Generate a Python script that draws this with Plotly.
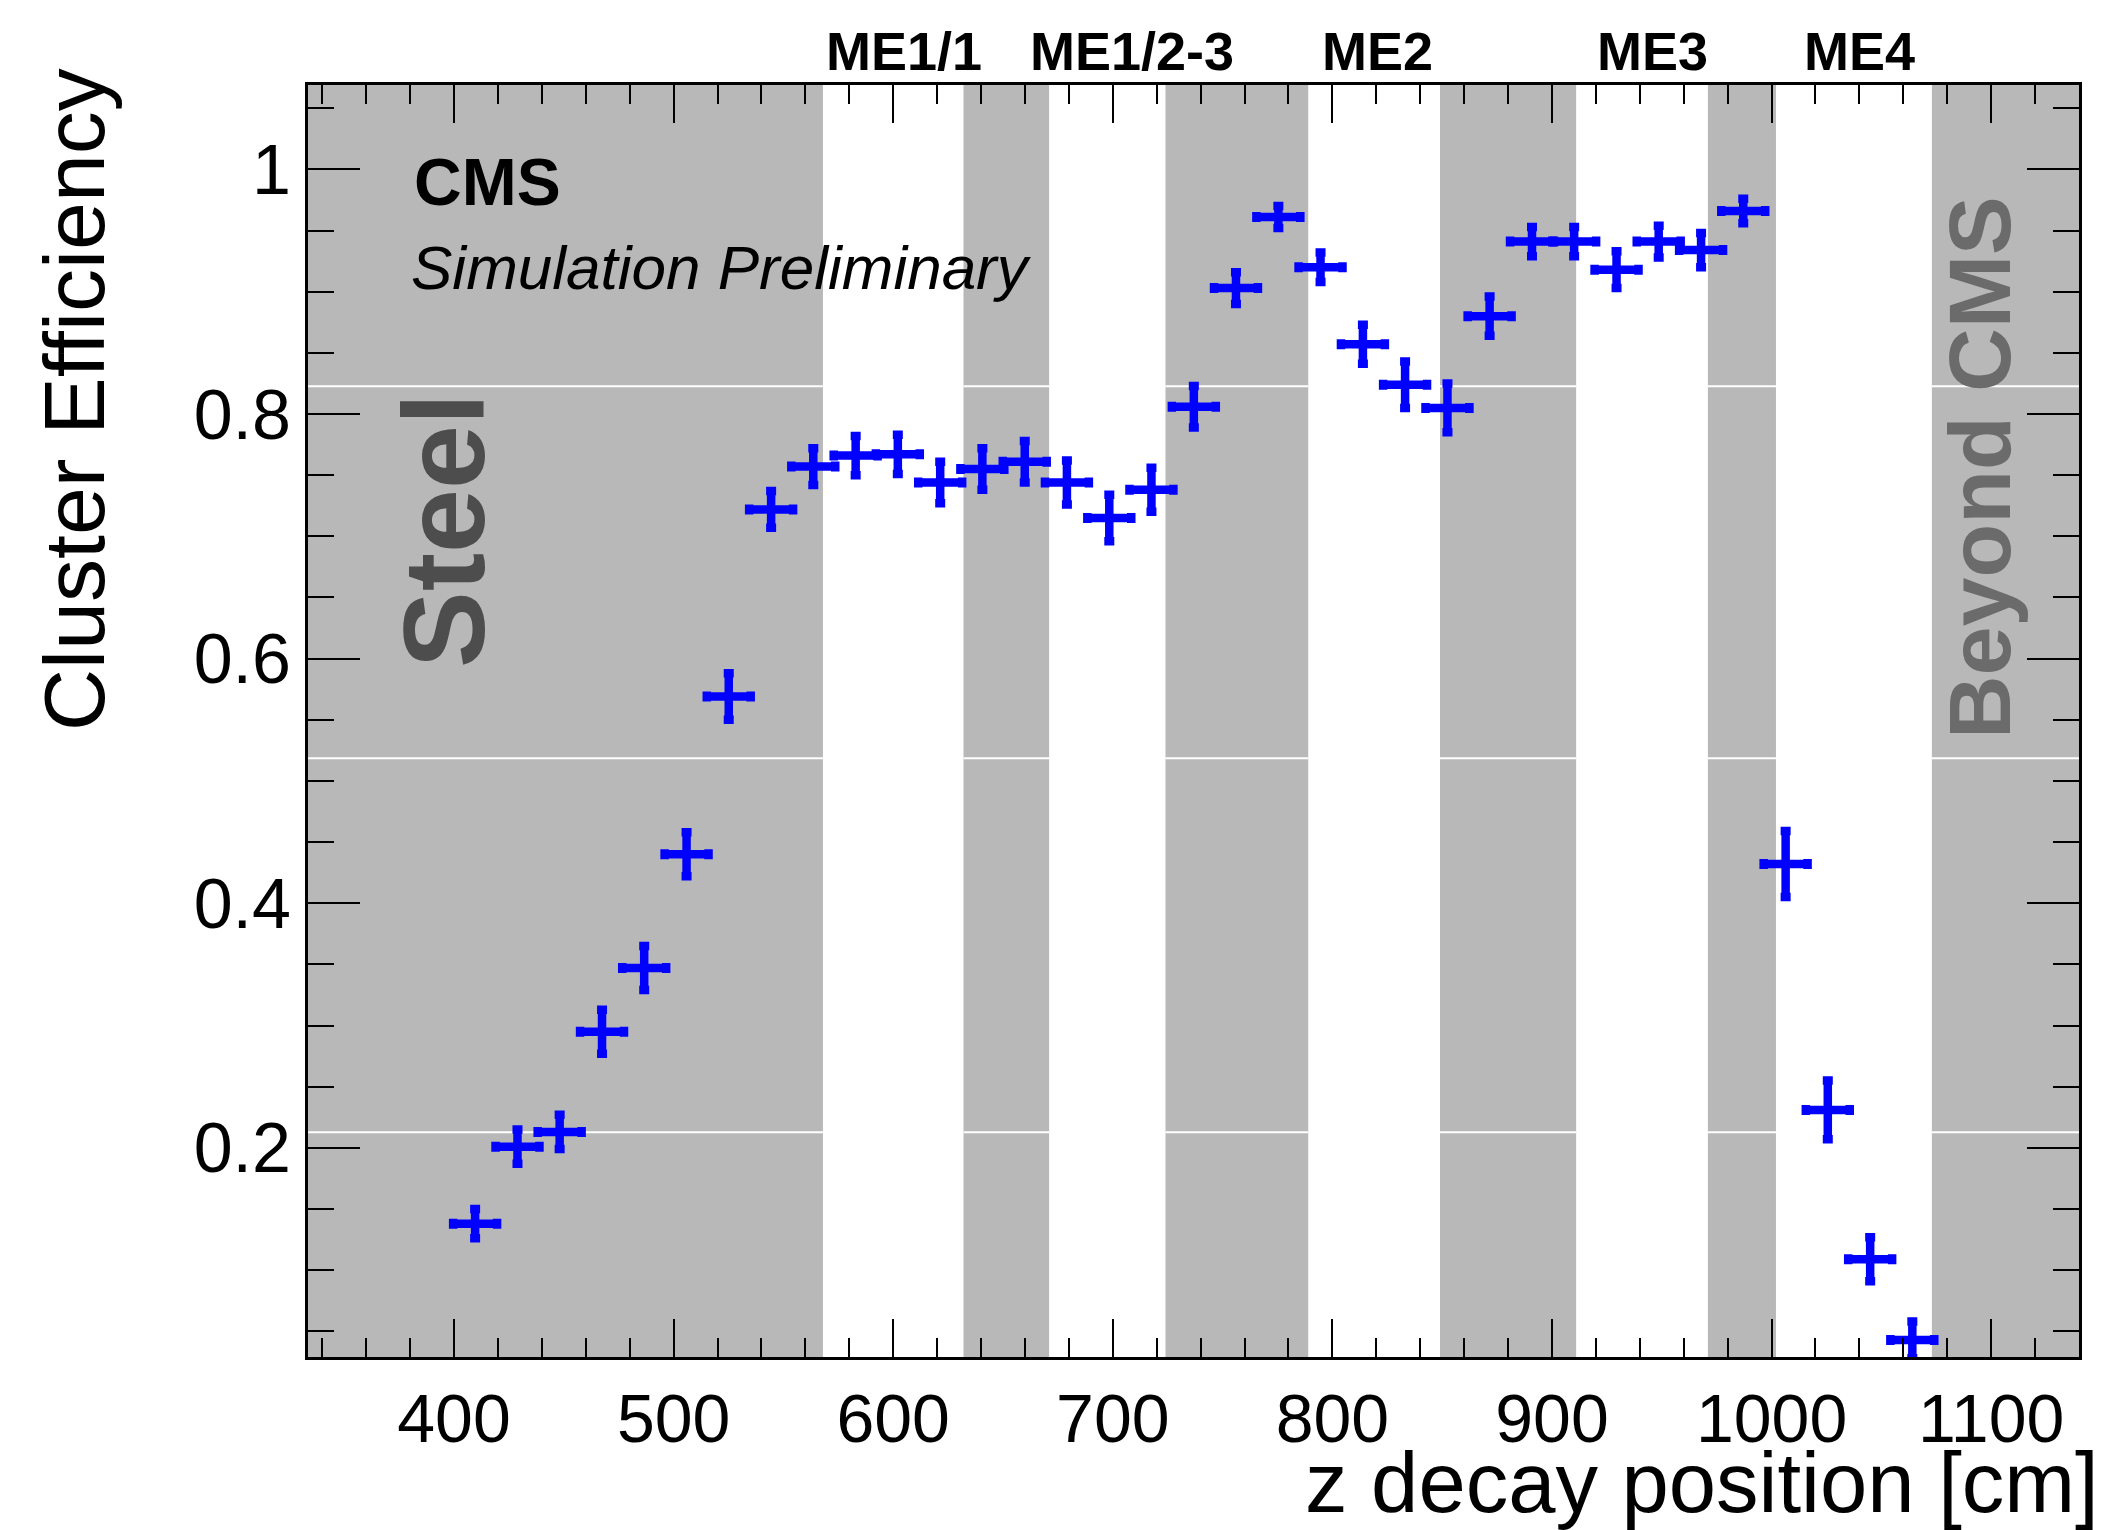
import plotly.graph_objects as go

# ---------------- data ----------------
z_cm = [409.6, 428.9, 448.1, 467.4, 486.6, 505.9, 525.1, 544.4, 563.6, 582.9,
        602.1, 621.4, 640.6, 659.9, 679.1, 698.4, 717.6, 736.9, 756.1, 775.4,
        794.6, 813.9, 833.1, 852.4, 871.6, 890.9, 910.1, 929.4, 948.6, 967.9,
        987.1, 1006.4, 1025.6, 1044.9, 1064.1]
efficiency = [0.138, 0.201, 0.213, 0.295, 0.347, 0.440, 0.569, 0.722, 0.757, 0.766,
              0.767, 0.744, 0.755, 0.761, 0.744, 0.715, 0.738, 0.806, 0.903, 0.961,
              0.920, 0.857, 0.824, 0.805, 0.880, 0.941, 0.941, 0.918, 0.941, 0.934,
              0.966, 0.432, 0.231, 0.109, 0.043]
efficiency_err = [0.012, 0.014, 0.014, 0.018, 0.018, 0.018, 0.019, 0.015, 0.015, 0.016,
                  0.016, 0.017, 0.017, 0.017, 0.018, 0.019, 0.018, 0.017, 0.013, 0.009,
                  0.012, 0.016, 0.019, 0.020, 0.016, 0.012, 0.012, 0.015, 0.013, 0.014,
                  0.010, 0.027, 0.024, 0.018, 0.015]
z_halfwidth = 10.0

# material (shaded) regions along z, in cm
band_lo = [333.5, 632.0, 724.0, 849.0, 971.0, 1073.0]
band_hi = [568.0, 671.0, 789.0, 911.0, 1002.0, 1140.0]

station_labels = ["ME1/1", "ME1/2-3", "ME2", "ME3", "ME4"]
x_ticks = [400, 500, 600, 700, 800, 900, 1000, 1100]
y_ticks = [0.2, 0.4, 0.6, 0.8, 1.0]
y_tick_labels = ["0.2", "0.4", "0.6", "0.8", "1"]

# ---------------- layout geometry (pixels) ----------------
W, H = 2111, 1530
L, R, T, B = 308, 2079, 85, 1357
X_RANGE = [333.5, 1140]
Y_RANGE = [0.029, 1.069]


def px_x(p):
    return (p - L) / (R - L)


def px_y(p):
    return (B - p) / (B - T)


FONT = "Liberation Sans, Arial, Helvetica, sans-serif"
BAND_COLOR = "#b8b8b8"

fig = go.Figure()

fig.add_trace(go.Scatter(
    x=z_cm, y=efficiency, mode="markers",
    marker=dict(size=2, color="#0000ff"),
    error_y=dict(type="data", array=efficiency_err, visible=True,
                 color="#0000ff", thickness=8.5, width=5),
    error_x=dict(type="constant", value=z_halfwidth, visible=True,
                 color="#0000ff", thickness=8.5, width=5),
    hoverinfo="x+y", showlegend=False,
))

shapes = []
for lo, hi in zip(band_lo, band_hi):
    shapes.append(dict(type="rect", xref="x", yref="paper", x0=lo, x1=hi, y0=0, y1=1,
                       fillcolor=BAND_COLOR, line=dict(width=0), layer="below"))
# faint tiling seams visible in the shaded regions
for lo, hi in zip(band_lo, band_hi):
    for ys in (0.8226, 0.5186, 0.2127):
        shapes.append(dict(type="line", xref="x", yref="y", x0=lo, x1=hi, y0=ys, y1=ys,
                           line=dict(color="white", width=2), layer="below"))

station_x = [605, 708.6, 820.6, 945.6, 1040]
annotations = []
for lab, sx in zip(station_labels, station_x):
    annotations.append(dict(text="<b>" + lab + "</b>", x=sx, xref="x", y=px_y(51), yref="paper",
                            showarrow=False, xanchor="center", yanchor="middle",
                            font=dict(family=FONT, size=54, color="black"), borderpad=0))

annotations += [
    dict(text="<b>CMS</b>", x=px_x(413), y=px_y(182), xref="paper", yref="paper",
         showarrow=False, xanchor="left", yanchor="middle",
         font=dict(family=FONT, size=66, color="black"), borderpad=0),
    dict(text="<i>Simulation Preliminary</i>", x=px_x(410), y=px_y(267), xref="paper", yref="paper",
         showarrow=False, xanchor="left", yanchor="middle",
         font=dict(family=FONT, size=62, color="black"), borderpad=0),
    dict(text="<b>Steel</b>", x=px_x(444), y=px_y(531), xref="paper", yref="paper",
         showarrow=False, xanchor="center", yanchor="middle", textangle=-90,
         font=dict(family=FONT, size=115, color="#4d4d4d"), borderpad=0),
    dict(text="<b>Beyond CMS</b>", x=px_x(1980), y=px_y(468), xref="paper", yref="paper",
         showarrow=False, xanchor="center", yanchor="middle", textangle=-90,
         font=dict(family=FONT, size=88, color="#6b6b6b"), borderpad=0),
    dict(text="z decay position [cm]", x=px_x(2100), y=px_y(1482), xref="paper", yref="paper",
         showarrow=False, xanchor="right", yanchor="middle",
         font=dict(family=FONT, size=85, color="black"), borderpad=0),
    dict(text="Cluster Efficiency", x=px_x(74), y=px_y(400), xref="paper", yref="paper",
         showarrow=False, xanchor="center", yanchor="middle", textangle=-90,
         font=dict(family=FONT, size=86, color="black"), borderpad=0),
]

fig.update_layout(
    width=W, height=H,
    margin=dict(l=L, r=W - R, t=T, b=H - B, pad=0),
    paper_bgcolor="white", plot_bgcolor="white",
    showlegend=False,
    shapes=shapes, annotations=annotations,
    xaxis=dict(
        range=X_RANGE, tickmode="array", tickvals=x_ticks,
        ticks="inside", ticklen=38, tickwidth=2, tickcolor="black",
        showline=True, linewidth=3, linecolor="black", mirror="allticks",
        showgrid=False, zeroline=False,
        tickfont=dict(family=FONT, size=68, color="black"),
        minor=dict(tickmode="linear", tick0=0, dtick=20, ticks="inside", ticklen=19,
                   tickwidth=2, tickcolor="black", showgrid=False),
    ),
    yaxis=dict(
        range=Y_RANGE, tickmode="array", tickvals=y_ticks, ticktext=y_tick_labels,
        ticks="inside", ticklen=52, tickwidth=2, tickcolor="black",
        showline=True, linewidth=3, linecolor="black", mirror="allticks",
        showgrid=False, zeroline=False,
        tickfont=dict(family=FONT, size=70, color="black"),
        minor=dict(tickmode="linear", tick0=0, dtick=0.05, ticks="inside", ticklen=26,
                   tickwidth=2, tickcolor="black", showgrid=False),
    ),
)

fig.write_html("out.html")
